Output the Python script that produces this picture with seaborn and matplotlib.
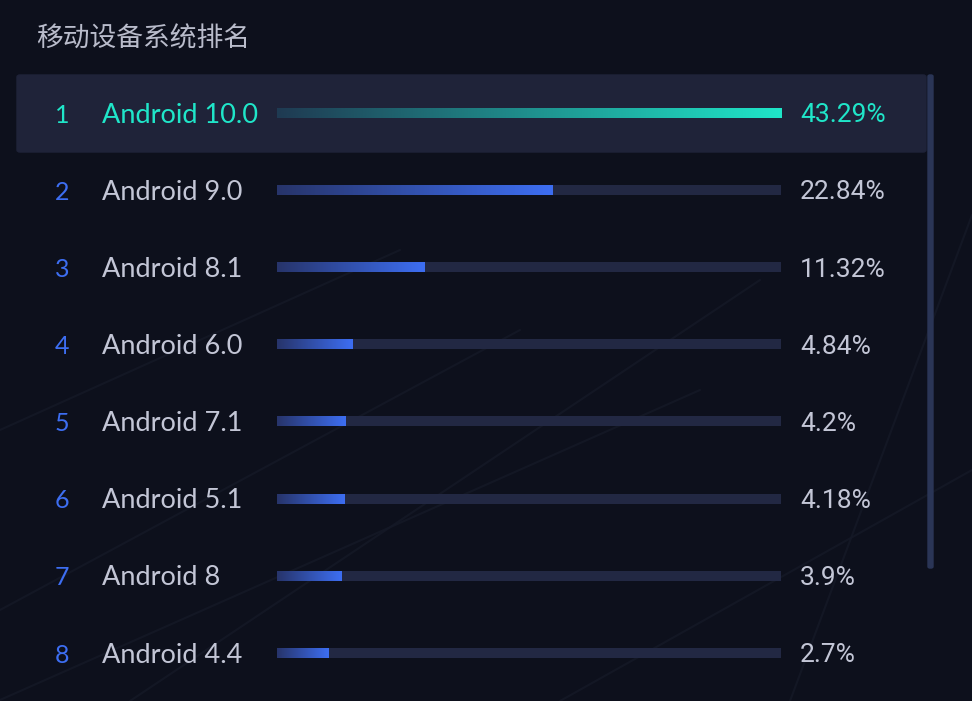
#!/usr/bin/env python3
"""Mobile OS version ranking - dark dashboard style bar list."""

import numpy as np
import matplotlib
matplotlib.use('Agg')
import matplotlib.pyplot as plt
import matplotlib.patches as mpatches
from matplotlib.colors import LinearSegmentedColormap
import seaborn as sns

# data
title = '移动设备系统排名'
ranks = [1, 2, 3, 4, 5, 6, 7, 8]
versions = ['Android 10.0', 'Android 9.0', 'Android 8.1', 'Android 6.0',
            'Android 7.1', 'Android 5.1', 'Android 8', 'Android 4.4']
shares = [43.29, 22.84, 11.32, 4.84, 4.2, 4.18, 3.9, 2.7]
share_labels = ['43.29%', '22.84%', '11.32%', '4.84%', '4.2%', '4.18%', '3.9%', '2.7%']

BG = '#0d101c'
TRACK = '#222843'
HILITE = '#1f2339'
TEAL = '#1fe6c9'
BLUE = '#3d6ef2'
TEXT = '#c3c6d6'

sns.set_theme(style='white')
plt.rcParams['font.family'] = ['Noto Sans CJK SC', 'DejaVu Sans']

W, H = 972, 701
fig = plt.figure(figsize=(W / 100, H / 100), dpi=100, facecolor=BG)

# faint perspective lines in the background
bg = fig.add_axes([0, 0, 1, 1], zorder=0)
bg.set_xlim(0, W)
bg.set_ylim(H, 0)
bg.axis('off')
bg.set_facecolor(BG)
for x0, y0, x1, y1 in [(0, 610, 520, 330), (0, 700, 700, 390), (130, 701, 760, 280),
                       (790, 701, 972, 215), (560, 701, 972, 470), (0, 430, 400, 250)]:
    bg.plot([x0, x1], [y0, y1], color='#151927', lw=1.5, alpha=0.8)

# highlight of first row and scrollbar
fig.patches.append(mpatches.FancyBboxPatch((17 / W, 1 - 152 / H), 909 / W, 77 / H,
                                           boxstyle='round,pad=0,rounding_size=0.003',
                                           transform=fig.transFigure, color=HILITE, zorder=1))
fig.patches.append(mpatches.FancyBboxPatch((928 / W, 1 - 568 / H), 5 / W, 493 / H,
                                           boxstyle='round,pad=0,rounding_size=0.002',
                                           transform=fig.transFigure, color='#2a3556', zorder=1))

fig.text(36 / W, 1 - 39 / H, title, color='#b9bccb', fontsize=19.3, va='center', ha='left',
         family=['Noto Sans CJK SC', 'DejaVu Sans'])

# bar axes: x maps to the track, rows are the categories
top_px, row_h = 74.5, 77.1
n = len(versions)
ax = fig.add_axes([277 / W, 1 - (top_px + n * row_h) / H, 504 / W, n * row_h / H], zorder=2)
ax.set_facecolor('none')

pad = 1.9  # bars have a minimum visible length
xmax = max(shares)
sns.barplot(x=[xmax + pad] * n, y=versions, orient='h', color=TRACK, width=0.13,
            ax=ax, saturation=1, left=-pad, linewidth=0)
track_count = len(ax.patches)
sns.barplot(x=[s + pad for s in shares], y=versions, orient='h', color=BLUE, width=0.13,
            ax=ax, saturation=1, left=-pad, linewidth=0)

ax.set_xlim(-pad, xmax)
ax.set_ylim(n - 0.5, -0.5)
ax.axis('off')

cm_blue = LinearSegmentedColormap.from_list('b', ['#27346a', BLUE])
cm_teal = LinearSegmentedColormap.from_list('t', ['#1f3a52', TEAL])
grad = np.linspace(0, 1, 256).reshape(1, -1)
for i, p in enumerate(ax.patches[track_count:]):
    x0, y0 = p.get_x(), p.get_y()
    w, h = p.get_width(), p.get_height()
    im = ax.imshow(grad, cmap=cm_teal if i == 0 else cm_blue, aspect='auto',
                   extent=(x0, x0 + w, y0 + h, y0), zorder=3, interpolation='bicubic')
    im.set_clip_path(p)
    p.set_alpha(0)
ax.set_xlim(-pad, xmax)
ax.set_ylim(n - 0.5, -0.5)

# row texts
tf = matplotlib.transforms.blended_transform_factory(fig.transFigure, ax.transData)
dy = 0.03
for i, (r, v, lab) in enumerate(zip(ranks, versions, share_labels)):
    first = i == 0
    ax.text(62 / W, i + dy, str(r), transform=tf, ha='center', va='center', fontsize=18,
            color=TEAL if first else BLUE, family=['Lato', 'DejaVu Sans'])
    ax.text(102 / W, i + dy, v, transform=tf, ha='left', va='center', fontsize=19.5,
            color=TEAL if first else TEXT, family=['Lato', 'DejaVu Sans'])
    ax.text(800 / W, i + dy, lab, transform=tf, ha='left', va='center', fontsize=19,
            color=TEAL if first else TEXT, family=['Roboto', 'DejaVu Sans'])

fig.savefig('out.png', dpi=100, facecolor=BG)
